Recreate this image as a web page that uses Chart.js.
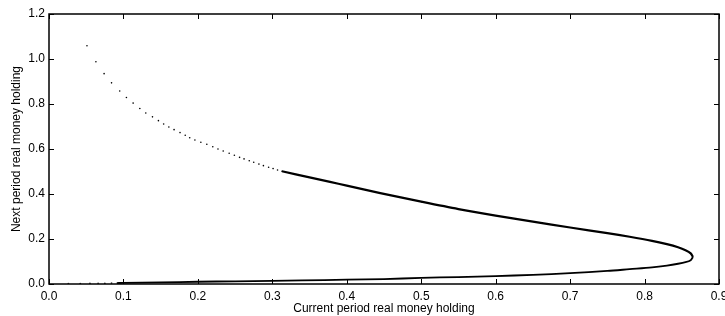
<!DOCTYPE html>
<html>
<head>
<meta charset="utf-8">
<script src="https://cdn.jsdelivr.net/npm/chart.js@4.4.1/dist/chart.umd.js"></script>
<style>
  html, body { margin: 0; padding: 0; background: #fff; }
  #wrap { width: 725px; height: 316px; }
</style>
</head>
<body>
<div id="wrap"><canvas id="chart"></canvas></div>
<script>
// axis ticks
const xTicks = [0, 0.1, 0.2, 0.3, 0.4, 0.5, 0.6, 0.7, 0.8, 0.9];
const yTicks = [0, 0.2, 0.4, 0.6, 0.8, 1.0, 1.2];

// sparse dots on the upper branch
const upperDotsX = [0.051, 0.063, 0.074, 0.084, 0.095, 0.104, 0.113, 0.122, 0.130, 0.139, 0.147, 0.154, 0.161, 0.168, 0.176, 0.183, 0.189, 0.196, 0.204, 0.212, 0.220, 0.227, 0.234, 0.242, 0.249, 0.256, 0.262, 0.269, 0.275, 0.282, 0.288, 0.295, 0.301, 0.307, 0.313];
const upperDotsY = [1.059, 0.988, 0.935, 0.894, 0.858, 0.829, 0.804, 0.780, 0.760, 0.743, 0.726, 0.711, 0.698, 0.686, 0.673, 0.661, 0.650, 0.640, 0.630, 0.621, 0.610, 0.600, 0.591, 0.581, 0.572, 0.563, 0.556, 0.548, 0.541, 0.533, 0.526, 0.519, 0.513, 0.507, 0.501];

// dense part of the upper branch, down to the nose
const upperLineX = [0.313, 0.35, 0.3775, 0.40, 0.445, 0.50, 0.55, 0.60, 0.65, 0.70, 0.75, 0.78, 0.81, 0.83, 0.845, 0.855, 0.862, 0.865];
const upperLineY = [0.501, 0.474, 0.454, 0.437, 0.404, 0.366, 0.333, 0.304, 0.277, 0.251, 0.226, 0.210, 0.192, 0.177, 0.163, 0.150, 0.136, 0.120];

// lower branch from the nose back towards the origin
const lowerLineX = [0.865, 0.862, 0.855, 0.845, 0.83, 0.81, 0.78, 0.75, 0.70, 0.65, 0.60, 0.55, 0.50, 0.45, 0.40, 0.34, 0.30, 0.25, 0.20, 0.15, 0.10, 0.091];
const lowerLineY = [0.120, 0.106, 0.097, 0.090, 0.082, 0.074, 0.066, 0.058, 0.048, 0.041, 0.035, 0.031, 0.027, 0.022, 0.019, 0.016, 0.014, 0.012, 0.010, 0.007, 0.005, 0.004];

// sparse dots near the origin
const tailX = [0.026, 0.042, 0.055, 0.066, 0.075, 0.084];
const tailY = [0.002, 0.002, 0.003, 0.003, 0.003, 0.004];

const pts = (xs, ys) => xs.map((x, i) => ({ x, y: ys[i] }));
const FONT = 'Liberation Sans, Arial, sans-serif';

// closed frame with inward ticks on all four sides
const framePlugin = {
  id: 'frame',
  afterDraw(chart) {
    const { ctx, chartArea: a, scales } = chart;
    const len = 5;
    ctx.save();
    ctx.strokeStyle = '#000';
    ctx.lineWidth = 1;
    ctx.beginPath();
    xTicks.forEach(v => {
      const px = Math.round(scales.x.getPixelForValue(v)) + 0.5;
      ctx.moveTo(px, a.bottom); ctx.lineTo(px, a.bottom - len);
      ctx.moveTo(px, a.top); ctx.lineTo(px, a.top + len);
    });
    yTicks.forEach(v => {
      const py = Math.round(scales.y.getPixelForValue(v)) + 0.5;
      ctx.moveTo(a.left, py); ctx.lineTo(a.left + len, py);
      ctx.moveTo(a.right, py); ctx.lineTo(a.right - len, py);
    });
    ctx.stroke();
    ctx.lineWidth = 1.5;
    ctx.strokeRect(a.left, a.top, a.right - a.left, a.bottom - a.top);
    ctx.restore();
  }
};

new Chart(document.getElementById('chart'), {
  type: 'scatter',
  data: {
    datasets: [
      { data: pts(upperDotsX, upperDotsY), pointRadius: 0.8, pointBorderWidth: 0, backgroundColor: '#000' },
      { data: pts(tailX, tailY), pointRadius: 0.9, pointBorderWidth: 0, backgroundColor: '#333' },
      { data: pts(upperLineX, upperLineY), showLine: true, borderColor: '#000', borderWidth: 2.2, pointRadius: 0, tension: 0.3 },
      { data: pts(lowerLineX, lowerLineY), showLine: true, borderColor: '#000', borderWidth: 1.8, pointRadius: 0, tension: 0.3 }
    ]
  },
  options: {
    responsive: true,
    maintainAspectRatio: false,
    animation: false,
    layout: { padding: { top: 14, right: 6, left: 0, bottom: 0 } },
    plugins: { legend: { display: false }, tooltip: { enabled: false } },
    scales: {
      x: {
        type: 'linear', min: 0, max: 0.9,
        afterFit(s) { s.height = 32; s.paddingLeft = 0; s.paddingRight = 0; },
        afterBuildTicks(s) { s.ticks = xTicks.map(v => ({ value: v })); },
        grid: { display: false, drawTicks: false },
        border: { display: false },
        ticks: { padding: 5, color: '#000', font: { family: FONT, size: 12 }, maxRotation: 0, callback: v => v.toFixed(1) },
        title: { display: true, text: 'Current period real money holding', color: '#000', font: { family: FONT, size: 12 }, padding: { top: 0, bottom: 0 } }
      },
      y: {
        type: 'linear', min: 0, max: 1.2,
        afterFit(s) { s.width = 49; s.paddingTop = 0; s.paddingBottom = 0; },
        afterBuildTicks(s) { s.ticks = yTicks.map(v => ({ value: v })); },
        grid: { display: false, drawTicks: false },
        border: { display: false },
        ticks: { padding: 4, color: '#000', font: { family: FONT, size: 12 }, callback: v => v.toFixed(1) },
        title: { display: true, text: 'Next period real money holding', color: '#000', font: { family: FONT, size: 12 }, padding: { top: 9, bottom: 0 } }
      }
    }
  },
  plugins: [framePlugin]
});
</script>
</body>
</html>
